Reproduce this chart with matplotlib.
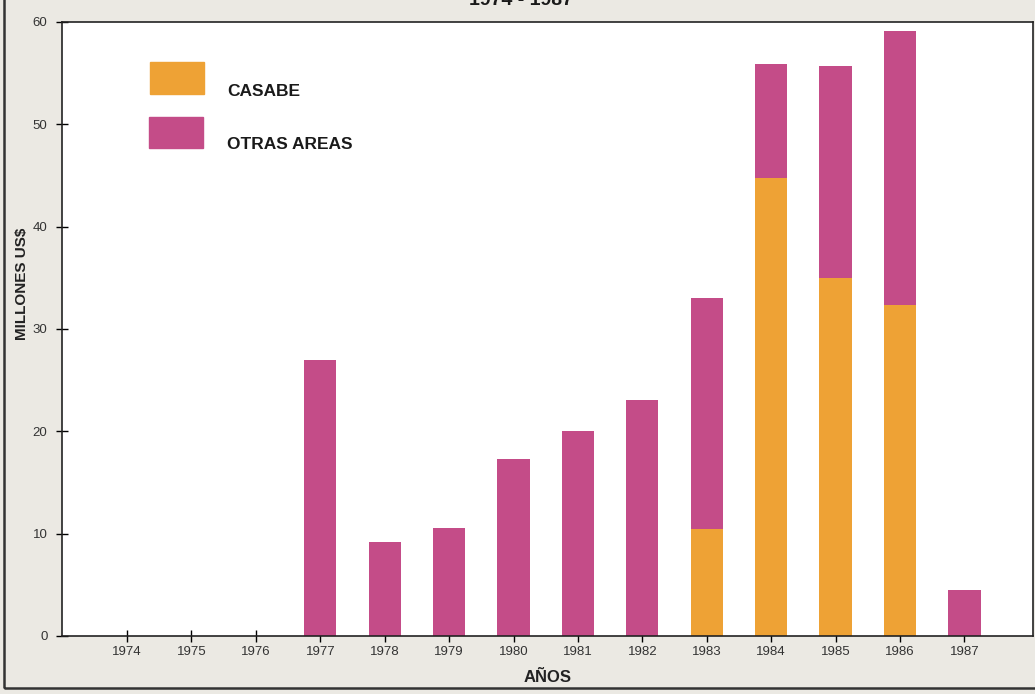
import numpy as np
import matplotlib.pyplot as plt
from matplotlib.patches import Rectangle

years = [1974, 1975, 1976, 1977, 1978, 1979, 1980, 1981, 1982, 1983, 1984, 1985, 1986, 1987]
casabe = [0, 0, 0, 0, 0, 0, 0, 0, 0, 10.5, 44.8, 35.0, 32.3, 0]
otras = [0, 0, 0, 27.0, 9.2, 10.6, 17.3, 20.0, 23.1, 22.5, 11.1, 20.7, 26.8, 4.5]

c_casabe = '#eea235'
c_otras = '#c44c88'
paper = '#ebe9e3'
fam = ['Liberation Sans', 'DejaVu Sans']

fig = plt.figure(figsize=(10.35, 6.94), dpi=100)
fig.patch.set_facecolor(paper)
ax = fig.add_axes([0.0599, 0.0836, 0.9385, 0.8847])
ax.set_facecolor('white')

x = np.array(years)
ax.bar(x, casabe, width=0.5, color=c_casabe, zorder=2)
ax.bar(x, otras, width=0.5, bottom=casabe, color=c_otras, zorder=2)

ax.set_xlim(1972.99, 1988.07)
ax.set_ylim(0, 60)
ax.set_yticks(range(0, 61, 10))
ax.set_xticks(years)
ax.set_xticklabels([str(y) for y in years])
for lab in ax.get_xticklabels() + ax.get_yticklabels():
    lab.set_family(fam)
    lab.set_fontsize(9.5)
    lab.set_color('#333333')
ax.tick_params(axis='y', direction='inout', length=9, width=1, pad=6)
ax.tick_params(axis='x', direction='inout', length=8, width=1, pad=3)
for s in ax.spines.values():
    s.set_linewidth(1.2)
    s.set_color('#222222')

ax.set_ylabel('MILLONES US$', fontsize=11, fontweight='bold', family=fam, color='#222222')
ax.yaxis.set_label_coords(-0.034, 0.573)
ax.set_xlabel('AÑOS', fontsize=12, fontweight='bold', family=fam, color='#222222')
ax.xaxis.set_label_coords(0.5, -0.055)

# legend drawn by hand: swatch above, label to the lower right
ax.add_patch(Rectangle((0.091, 0.883), 0.055, 0.052, transform=ax.transAxes,
                       color=c_casabe, clip_on=False, zorder=3))
ax.add_patch(Rectangle((0.090, 0.795), 0.055, 0.051, transform=ax.transAxes,
                       color=c_otras, clip_on=False, zorder=3))
ax.text(0.170, 0.880, 'CASABE', transform=ax.transAxes, fontsize=12.5,
        fontweight='bold', color='#1a1a1a', va='baseline', family=fam)
ax.text(0.170, 0.793, 'OTRAS AREAS', transform=ax.transAxes, fontsize=12.5,
        fontweight='bold', color='#1a1a1a', va='baseline', family=fam)

fig.text(0.503, 1 - 5 / 694, '1974 - 1987', ha='center', va='baseline', fontsize=14,
         fontweight='bold', color='#1a1a1a', family=fam)

# page frame
fig.add_artist(Rectangle((4 / 1035, 6 / 694), 1.2, 1.2, transform=fig.transFigure,
                         fill=False, edgecolor='#333333', linewidth=1.8))

fig.savefig('out.png', dpi=100, facecolor=fig.get_facecolor())
